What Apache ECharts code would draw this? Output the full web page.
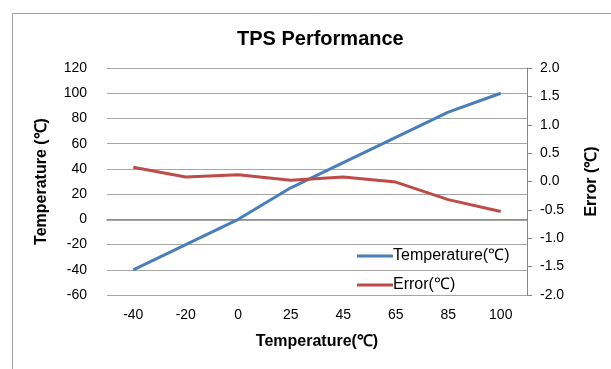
<!DOCTYPE html>
<html>
<head>
<meta charset="utf-8">
<script src="https://cdn.jsdelivr.net/npm/echarts@6/dist/echarts.min.js"></script>
<style>
  html, body { margin: 0; padding: 0; background: #fff; }
  #chart { width: 611px; height: 369px; }
</style>
</head>
<body>
<div id="chart"></div>
<script>
// Test temperatures (x categories)
const categories = ['-40', '-20', '0', '25', '45', '65', '85', '100'];
// Measured temperature (℃)
const temperatureValues = [-40, -20, 0, 25, 45, 65, 85, 100];
// Measurement error (℃)
const errorValues = [0.25, 0.08, 0.12, 0.02, 0.08, -0.01, -0.32, -0.53];

const FONT = '"Liberation Sans", Arial, sans-serif';
const chart = echarts.init(document.getElementById('chart'), null, { renderer: 'canvas' });

chart.setOption({
  animation: false,
  backgroundColor: '#ffffff',
  textStyle: { fontFamily: FONT },
  graphic: [{
    type: 'rect',
    left: 10, top: 11,
    shape: { width: 700, height: 500 },
    style: { fill: 'none', stroke: '#a0a0a0', lineWidth: 1 },
    silent: true, z: -10
  }],
  title: {
    text: 'TPS Performance',
    left: 232,
    top: 24,
    textStyle: { fontFamily: FONT, fontSize: 20, fontWeight: 'bold', color: '#000' }
  },
  legend: {
    orient: 'vertical',
    left: 352,
    top: 243,
    itemWidth: 36,
    itemHeight: 14,
    itemGap: 13,
    icon: 'path://M0,6 L36,6 L36,9 L0,9 Z',
    textStyle: { fontFamily: FONT, fontSize: 16, color: '#000', padding: [0, 0, 0, -5] },
    data: ['Temperature(℃)', 'Error(℃)']
  },
  grid: { left: 107, right: 84, top: 68, bottom: 74 },
  xAxis: [{
    type: 'category',
    data: categories,
    position: 'bottom',
    boundaryGap: true,
    axisLine: { show: false, onZero: false },
    axisTick: { show: false },
    axisLabel: { fontFamily: FONT, fontSize: 14, color: '#000', margin: 13 },
    name: 'Temperature(℃)',
    nameLocation: 'middle',
    nameGap: 39,
    nameTextStyle: { fontFamily: FONT, fontSize: 16, fontWeight: 'bold', color: '#000' }
  }, {
    // axis line drawn across the zero level of the temperature scale
    type: 'category',
    data: categories,
    axisLine: { show: true, onZero: true, onZeroAxisIndex: 0, lineStyle: { color: '#868686', width: 1.5 } },
    axisTick: { show: false },
    axisLabel: { show: false }
  }],
  yAxis: [{
    type: 'value',
    min: -60, max: 120, interval: 20,
    position: 'left',
    axisLine: { show: false },
    axisTick: { show: false },
    splitLine: { show: true, lineStyle: { color: '#a6a6a6', width: 1 } },
    axisLabel: { fontFamily: FONT, fontSize: 14, color: '#000', margin: 20 },
    name: 'Temperature (℃)',
    nameLocation: 'middle',
    nameGap: 57,
    nameRotate: 90,
    nameTextStyle: { fontFamily: FONT, fontSize: 16, fontWeight: 'bold', color: '#000' }
  }, {
    type: 'value',
    min: -2, max: 2, interval: 0.5,
    position: 'right',
    axisLine: { show: true, lineStyle: { color: '#868686', width: 1 } },
    axisTick: { show: true, inside: false, length: 5, lineStyle: { color: '#868686' } },
    splitLine: { show: false },
    axisLabel: { fontFamily: FONT, fontSize: 14, color: '#000', margin: 13, formatter: v => v.toFixed(1) },
    name: 'Error (℃)',
    nameLocation: 'middle',
    nameGap: 57,
    nameRotate: 90,
    nameTextStyle: { fontFamily: FONT, fontSize: 16, fontWeight: 'bold', color: '#000' }
  }],
  series: [{
    name: 'Temperature(℃)',
    type: 'line',
    xAxisIndex: 0,
    yAxisIndex: 0,
    data: temperatureValues,
    symbol: 'none',
    lineStyle: { color: '#4a7ebb', width: 3 },
    itemStyle: { color: '#4a7ebb' }
  }, {
    name: 'Error(℃)',
    type: 'line',
    xAxisIndex: 0,
    yAxisIndex: 1,
    data: errorValues,
    symbol: 'none',
    lineStyle: { color: '#be4b48', width: 3 },
    itemStyle: { color: '#be4b48' }
  }]
});
</script>
</body>
</html>
